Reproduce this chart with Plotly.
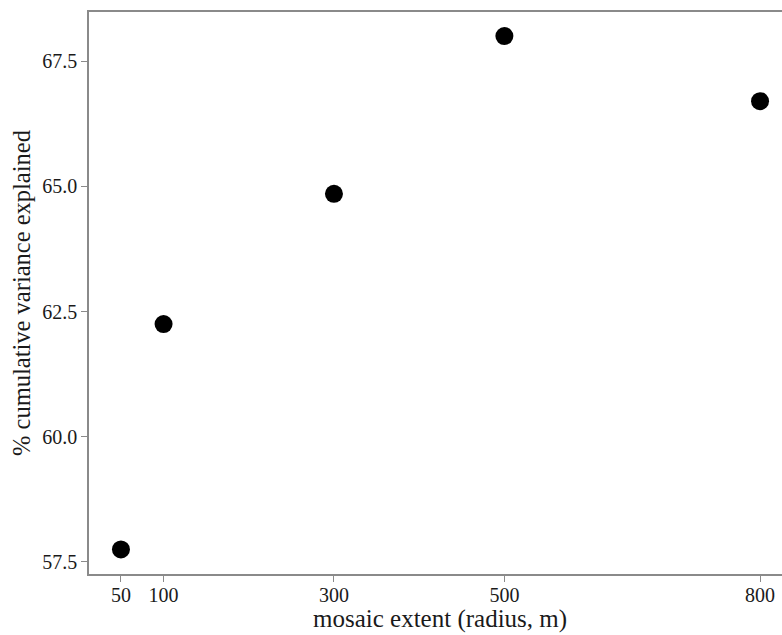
import plotly.graph_objects as go

# Mosaic extent (radius in metres) vs. cumulative variance explained
radius_m = [50, 100, 300, 500, 800]
variance_pct = [57.75, 62.25, 64.85, 68.0, 66.7]
x_ticks = [50, 100, 300, 500, 800]
y_ticks = [57.5, 60.0, 62.5, 65.0, 67.5]

# full padded x extent of the panel (5% either side of the data span)
x_pad = 0.05 * (max(radius_m) - min(radius_m))
x_full = [min(radius_m) - x_pad, max(radius_m) + x_pad]

axis_grey = "#8a8a8a"
text_col = "#1a1a1a"
serif = "Liberation Serif"

fig = go.Figure(
    go.Scatter(
        x=radius_m,
        y=variance_pct,
        mode="markers",
        marker=dict(size=18, color="black"),
        hoverinfo="x+y",
    )
)

fig.update_layout(
    width=782,
    height=635,
    margin=dict(l=89, r=0, t=12, b=61),
    plot_bgcolor="white",
    paper_bgcolor="white",
    showlegend=False,
    font=dict(family=serif, color=text_col),
)

fig.update_xaxes(
    range=[x_full[0], 825.8],
    tickvals=x_ticks,
    ticktext=[str(v) for v in x_ticks],
    showgrid=False,
    zeroline=False,
    showline=True,
    mirror=True,
    linecolor=axis_grey,
    linewidth=1.5,
    ticks="outside",
    ticklen=6,
    ticklabelstandoff=-4,
    tickcolor=axis_grey,
    tickfont=dict(family=serif, size=20, color=text_col),
)

# x-axis title centred on the whole padded panel width
fig.add_annotation(
    text="mosaic extent (radius, m)",
    xref="x",
    x=sum(x_full) / 2,
    yref="paper",
    y=0,
    yanchor="middle",
    yshift=-45,
    showarrow=False,
    font=dict(family=serif, size=25, color=text_col),
)

fig.update_yaxes(
    range=[57.26, 68.48],
    tickvals=y_ticks,
    ticktext=[f"{v:.1f}" for v in y_ticks],
    showgrid=False,
    zeroline=False,
    showline=True,
    linecolor=axis_grey,
    linewidth=1.5,
    ticks="outside",
    ticklen=6,
    tickcolor=axis_grey,
    tickfont=dict(family=serif, size=20, color=text_col),
    title=dict(text="% cumulative variance explained", font=dict(family=serif, size=24.5), standoff=5),
)

fig.write_html("out.html")
